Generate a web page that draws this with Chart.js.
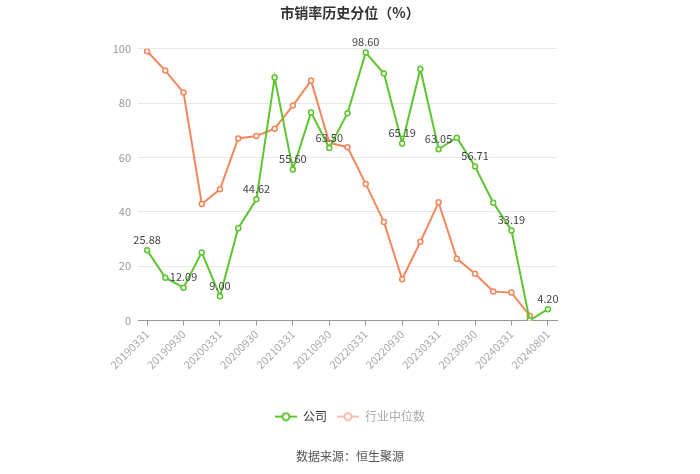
<!DOCTYPE html>
<html>
<head>
<meta charset="utf-8">
<script src="https://cdn.jsdelivr.net/npm/chart.js@4/dist/chart.umd.min.js"></script>
<style>
html,body{margin:0;padding:0;background:#fff;}
#wrap{width:700px;height:474px;position:relative;}
</style>
</head>
<body>
<div id="wrap"><canvas id="c"></canvas></div>
<script>
const categories = ['20190331','20190630','20190930','20191231','20200331','20200630','20200930','20201231','20210331','20210630','20210930','20211231','20220331','20220630','20220930','20221231','20230331','20230630','20230930','20231231','20240331','20240630','20240801'];
const companyValues = [25.88,15.8,12.09,25.1,9.00,34.0,44.62,89.4,55.60,76.6,63.50,76.3,98.60,90.9,65.19,92.6,63.05,67.3,56.71,43.4,33.19,0.1,4.20];
const industryValues = [99.1,92.0,83.9,42.9,48.3,67.0,67.9,70.6,79.1,88.3,65.4,63.8,50.3,36.3,15.2,29.0,43.5,22.8,17.2,10.7,10.3,1.8,null];
const yTicks = [0,20,40,60,80,100];
const seriesNames = ['公司','行业中位数'];
const titleText = '市销率历史分位（%）';
const sourceText = '数据来源：恒生聚源';

const GREEN = '#5cc52f';
const ORANGE = '#f5875c';
const FONT = '"Noto Sans CJK SC","Noto Sans",sans-serif';

function makeIcon(color){
  const c = document.createElement('canvas');
  c.width = 22; c.height = 10;
  const g = c.getContext('2d');
  g.strokeStyle = color; g.lineWidth = 2;
  g.beginPath(); g.moveTo(0,5); g.lineTo(22,5); g.stroke();
  g.beginPath(); g.arc(11,5,3.5,0,Math.PI*2); g.fillStyle='#fff'; g.fill(); g.stroke();
  return c;
}
const icons = [makeIcon(GREEN), makeIcon('#f8bca6')];
const legendColors = ['#333','#aaa'];

const labelPlugin = {
  id:'valueLabels',
  afterDatasetsDraw(chart){
    const ctx = chart.ctx;
    const meta = chart.getDatasetMeta(0);
    ctx.save();
    ctx.font = '11px ' + FONT;
    ctx.fillStyle = '#444';
    ctx.textAlign = 'center';
    ctx.textBaseline = 'bottom';
    companyValues.forEach((v,i)=>{
      if (i % 2 !== 0) return;
      const p = meta.data[i];
      ctx.fillText(v.toFixed(2), p.x, p.y - 5);
    });
    ctx.restore();
  }
};

new Chart(document.getElementById('c'), {
  type:'line',
  data:{
    labels:categories,
    datasets:[
      {label:seriesNames[0], data:companyValues, borderColor:GREEN, backgroundColor:'#fff', borderWidth:2, pointRadius:2.5, pointBorderWidth:1.5, pointBackgroundColor:'#fff', pointBorderColor:GREEN, tension:0},
      {label:seriesNames[1], data:industryValues, borderColor:ORANGE, backgroundColor:'#fff', borderWidth:2, pointRadius:2.5, pointBorderWidth:1.5, pointBackgroundColor:'#fff', pointBorderColor:ORANGE, tension:0, spanGaps:false}
    ]
  },
  options:{
    responsive:true,
    maintainAspectRatio:false,
    animation:false,
    layout:{padding:{left:0,right:0,top:0,bottom:0}},
    plugins:{
      tooltip:{enabled:false},
      title:{display:true, text:titleText, color:'#333', font:{family:FONT, size:14, weight:'bold'}, padding:{top:4,bottom:28}},
      subtitle:{display:true, position:'bottom', text:sourceText, color:'#555', font:{family:FONT, size:12}, padding:{top:17,bottom:10}},
      legend:{
        display:true, position:'bottom',
        labels:{
          usePointStyle:true, pointStyleWidth:22, padding:10,
          font:{family:FONT, size:12},
          generateLabels(chart){
            return chart.data.datasets.map((ds,i)=>({
              text:ds.label, pointStyle:icons[i], fontColor:legendColors[i],
              datasetIndex:i, hidden:false, lineWidth:0, strokeStyle:'transparent', fillStyle:'transparent'
            }));
          }
        }
      }
    },
    scales:{
      x:{
        type:'category', offset:true,
        afterFit(s){ s.height = 80; },
        grid:{drawOnChartArea:false, drawTicks:true, tickLength:5, tickColor:(c)=> (c.index % 2 === 0 ? '#999' : 'rgba(0,0,0,0)')},
        border:{display:true, color:'#999', width:1},
        ticks:{autoSkip:false, minRotation:45, maxRotation:45, color:'#aaa', font:{family:FONT, size:11}, padding:2,
          callback(v,i){ return i % 2 === 0 ? categories[i] : ''; }}
      },
      y:{
        min:0, max:100,
        afterFit(s){ s.width = 138; },
        afterBuildTicks(s){ s.ticks = yTicks.map(v=>({value:v})); },
        grid:{color:'#e8e8e8', drawTicks:false},
        border:{display:false},
        ticks:{color:'#999', font:{family:FONT, size:11}, padding:7}
      },
      yRight:{
        position:'right', min:0, max:100,
        afterFit(s){ s.width = 143; },
        grid:{display:false, drawTicks:false},
        border:{display:false},
        ticks:{display:false}
      }
    }
  },
  plugins:[labelPlugin]
});
</script>
</body>
</html>
